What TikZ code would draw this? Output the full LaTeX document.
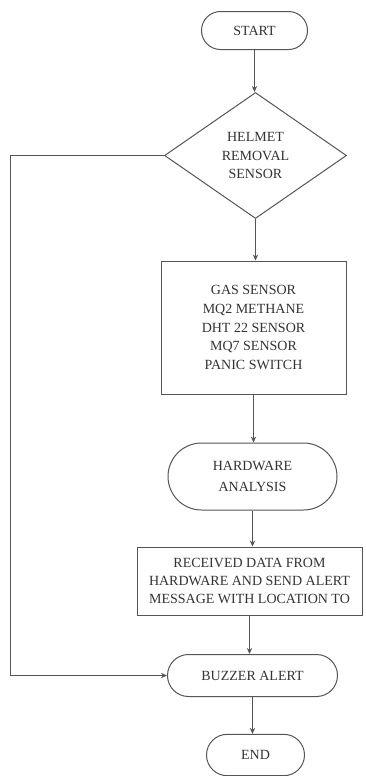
\documentclass[tikz,border=0pt]{standalone}
\usepackage{fontspec}
\setmainfont{Liberation Serif}
\usetikzlibrary{shapes.geometric,shapes.misc,arrows.meta}
\definecolor{lc}{HTML}{555555}
\definecolor{tc}{HTML}{333333}
\tikzset{
  base/.style={draw=lc, line width=0.75pt, text=tc, inner sep=0pt, align=center,
    font=\fontsize{10.5}{14}\selectfont},
  term/.style={base, rounded rectangle},
  procbox/.style={base, rectangle},
  decide/.style={base, diamond},
  conn/.style={draw=lc, line width=0.75pt, -{Stealth[length=4.5pt,width=4pt]}},
}
\begin{document}
\begin{tikzpicture}[x=0.75pt,y=-0.75pt]
\useasboundingbox (0,0) rectangle (366,776);
\node[term, minimum width=79.5pt, minimum height=28.5pt] (start) at (254.5,30.5) {START};
\node[decide, minimum width=136.5pt, minimum height=94.5pt] (helmet) at (255.5,155.5) {HELMET\\REMOVAL\\SENSOR};
\node[procbox, minimum width=138.75pt, minimum height=99.75pt] (sens) at (253.5,327.5)
  {GAS SENSOR\\MQ2 METHANE\\DHT 22 SENSOR\\MQ7 SENSOR\\PANIC SWITCH};
\node[term, minimum width=126.75pt, minimum height=50.25pt, font=\fontsize{10.5}{16}\selectfont] (hw) at (252.5,476.5) {HARDWARE\\ANALYSIS};
\node[procbox, minimum width=168.75pt, minimum height=51pt, font=\fontsize{10.5}{13.5}\selectfont] (recv) at (249.5,581)
  {RECEIVED DATA FROM\\HARDWARE AND SEND ALERT\\MESSAGE WITH LOCATION TO};
\node[term, minimum width=127.5pt, minimum height=31.5pt] (buzz) at (252.5,675.5) {BUZZER ALERT};
\node[term, minimum width=73.5pt, minimum height=31pt] (end) at (255.5,755) {END};
\coordinate (lt) at (10.5,155.5);
\coordinate (lb) at (10.5,675.5);
\draw[conn] (start.south) -- (start.south |- helmet.north);
\draw[conn] (helmet.south) -- (helmet.south |- sens.north);
\draw[conn] (sens.south) -- (sens.south |- hw.north);
\draw[conn] (hw.south) -- (hw.south |- recv.north);
\draw[conn] (recv.south) -- (recv.south |- buzz.north);
\draw[conn] (buzz.south) -- (buzz.south |- end.north);
\draw[conn] (helmet.west) -- (lt) -- (lb) -- (buzz.west);
\end{tikzpicture}
\end{document}
